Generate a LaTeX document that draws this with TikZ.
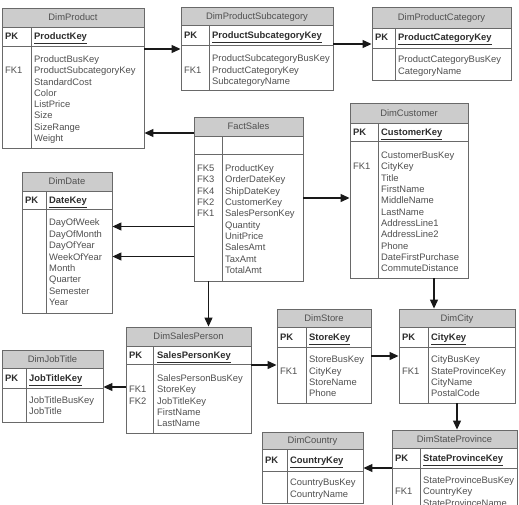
\documentclass[tikz,border=0pt]{standalone}
\usepackage{fontspec}
\setmainfont{Liberation Sans}
\usetikzlibrary{fit,arrows.meta}
\definecolor{hdr}{RGB}{204,204,204}
\definecolor{bord}{RGB}{105,105,105}
\definecolor{txt}{RGB}{80,80,80}
\definecolor{keytxt}{RGB}{45,45,45}
\definecolor{conncol}{RGB}{25,25,25}
\tikzset{
  tbl/.style={draw=bord, line width=0.9pt, inner sep=0pt, fit={#1}},
  fld/.style={inner sep=0pt, text=txt, font=\fontsize{9.4}{11}\selectfont, anchor=base west},
  pkfld/.style={inner sep=0pt, text=keytxt, font=\fontsize{9.4}{11}\selectfont\bfseries, anchor=base west},
  ttl/.style={inner sep=0pt, text=txt, font=\fontsize{9.4}{11}\selectfont, anchor=base},
  sep/.style={draw=bord, line width=0.9pt},
  conn/.style={draw=conncol, line width=1.2pt, -{Triangle[length=9pt,width=8pt]}},
}
% #1 id, #2 left, #3 top, #4 right, #5 bottom, #6 header bottom, #7 pk bottom, #8 divider x
\newcommand\ertab[8]{%
  \fill[hdr] (#2,#3) rectangle (#4,#6);
  \draw[sep] (#2,#6) -- (#4,#6) (#2,#7) -- (#4,#7) (#8,#6) -- (#8,#5);
  \node[tbl={(#2,#3)(#4,#5)}] (#1) {};
}
% #1 id, #2 title x, #3 title y, #4 title, #5 pk label x, #6 key x, #7 pk y, #8 key text
\newcommand\erhead[8]{%
  \node[ttl] (#1-title) at ({#2},{#3+3.4}) {#4};
  \node[pkfld] (#1-pk) at ({#5},{#7+3.4}) {PK};
  \node[pkfld] (#1-key) at ({#6},{#7+3.4}) {\underline{#8}};
}
% #1 id prefix, #2 x, #3 first row centre y, #4 pitch, #5 list
\newcommand\erlines[5]{%
  \foreach \t [count=\i from 0] in {#5} {\node[fld] (#1\i) at ({#2},{#3+3.4+\i*#4}) {\t};}
}
\begin{document}
\begin{tikzpicture}[x=1pt,y=-1pt]
\useasboundingbox (0,0) rectangle (519,504);
\clip (0,0) rectangle (519,504);
\fill[white] (0,0) rectangle (519,504);

% DimProduct
\ertab{prod}{2}{8}{144}{148}{27}{46}{31}
\erhead{prod}{73}{17.5}{DimProduct}{5}{34}{36}{ProductKey}
\erlines{prod-f}{34}{59.3}{11.25}{ProductBusKey,ProductSubcategoryKey,StandardCost,Color,ListPrice,Size,SizeRange,Weight}
\erlines{prod-k}{5}{59.3}{11.25}{,FK1}

% DimProductSubcategory
\ertab{subcat}{181}{7}{333}{90}{25}{45}{209}
\erhead{subcat}{257}{16}{DimProductSubcategory}{184}{212}{35.3}{ProductSubcategoryKey}
\erlines{subcat-f}{212}{58.3}{11.3}{ProductSubcategoryBusKey,ProductCategoryKey,SubcategoryName}
\erlines{subcat-k}{184}{58.3}{11.3}{,FK1}

% DimProductCategory
\ertab{cat}{372}{7}{511}{80}{28}{48}{395}
\erhead{cat}{441.5}{17.3}{DimProductCategory}{375}{398}{37.3}{ProductCategoryKey}
\erlines{cat-f}{398}{59.3}{11.3}{ProductCategoryBusKey,CategoryName}

% FactSales
\ertab{fact}{194}{117}{303}{281}{136}{154}{222}
\node[ttl] (fact-title) at (248.5,{126+3.4}) {FactSales};
\erlines{fact-f}{225}{168}{11.35}{ProductKey,OrderDateKey,ShipDateKey,CustomerKey,SalesPersonKey,Quantity,UnitPrice,SalesAmt,TaxAmt,TotalAmt}
\erlines{fact-k}{197}{168}{11.35}{FK5,FK3,FK4,FK2,FK1}

% DimCustomer
\ertab{cust}{350}{103}{468}{278}{123}{141}{378}
\erhead{cust}{409}{113}{DimCustomer}{353}{381}{132.3}{CustomerKey}
\erlines{cust-f}{381}{155}{11.33}{CustomerBusKey,CityKey,Title,FirstName,MiddleName,LastName,AddressLine1,AddressLine2,Phone,DateFirstPurchase,CommuteDistance}
\erlines{cust-k}{353}{155}{11.33}{,FK1}

% DimDate
\ertab{date}{22}{172}{112}{313}{191}{209}{46}
\erhead{date}{67}{181.5}{DimDate}{25}{49}{200.3}{DateKey}
\erlines{date-f}{49}{222.3}{11.45}{DayOfWeek,DayOfMonth,DayOfYear,WeekOfYear,Month,Quarter,Semester,Year}

% DimSalesPerson
\ertab{sp}{126}{327}{251}{433}{346}{364}{153}
\erhead{sp}{188.5}{336.3}{DimSalesPerson}{129}{157}{355.3}{SalesPersonKey}
\erlines{sp-f}{157}{378.3}{11.25}{SalesPersonBusKey,StoreKey,JobTitleKey,FirstName,LastName}
\erlines{sp-k}{129}{378.3}{11.25}{,FK1,FK2}

% DimJobTitle
\ertab{job}{2}{350}{103}{422}{368}{388}{26}
\erhead{job}{52.5}{359}{DimJobTitle}{5}{29}{378}{JobTitleKey}
\erlines{job-f}{29}{400}{11.5}{JobTitleBusKey,JobTitle}

% DimStore
\ertab{store}{277}{309}{371}{403}{327}{347}{306}
\erhead{store}{324}{318}{DimStore}{280}{309}{337}{StoreKey}
\erlines{store-f}{309}{359.3}{11.3}{StoreBusKey,CityKey,StoreName,Phone}
\erlines{store-k}{280}{359.3}{11.3}{,FK1}

% DimCity
\ertab{city}{399}{309}{515}{403}{327}{347}{428}
\erhead{city}{457}{318}{DimCity}{402}{431}{337}{CityKey}
\erlines{city-f}{431}{359.3}{11.3}{CityBusKey,StateProvinceKey,CityName,PostalCode}
\erlines{city-k}{402}{359.3}{11.3}{,FK1}

% DimCountry
\ertab{country}{262}{432}{363}{503}{449}{471}{287}
\erhead{country}{312.5}{440.5}{DimCountry}{265}{290}{460}{CountryKey}
\erlines{country-f}{290}{482.3}{11.4}{CountryBusKey,CountryName}

% DimStateProvince
\ertab{state}{392}{430}{517}{520}{448}{468}{420}
\erhead{state}{454.5}{439}{DimStateProvince}{395}{423}{458}{StateProvinceKey}
\erlines{state-f}{423}{480}{11.5}{StateProvinceBusKey,CountryKey,StateProvinceName}
\erlines{state-k}{395}{480}{11.5}{,FK1}

% connectors
\draw[conn] (prod.east |- 0,49) -- (subcat.west |- 0,49);
\draw[conn] (subcat.east |- 0,44) -- (cat.west |- 0,44);
\draw[conn] (fact.west |- 0,133) -- (prod.east |- 0,133);
\draw[conn] (fact.east |- 0,198) -- (cust.west |- 0,198);
\draw[conn] (fact.west |- 0,226.5) -- (date.east |- 0,226.5);
\draw[conn] (fact.west |- 0,256.5) -- (date.east |- 0,256.5);
\draw[conn] (fact.south -| 208.5,0) -- (sp.north -| 208.5,0);
\draw[conn] (cust.south -| 434,0) -- (city.north -| 434,0);
\draw[conn] (sp.east |- 0,365) -- (store.west |- 0,365);
\draw[conn] (sp.west |- 0,387) -- (job.east |- 0,387);
\draw[conn] (store.east |- 0,356) -- (city.west |- 0,356);
\draw[conn] (city.south -| 457,0) -- (state.north -| 457,0);
\draw[conn] (state.west |- 0,468) -- (country.east |- 0,468);
\end{tikzpicture}
\end{document}
